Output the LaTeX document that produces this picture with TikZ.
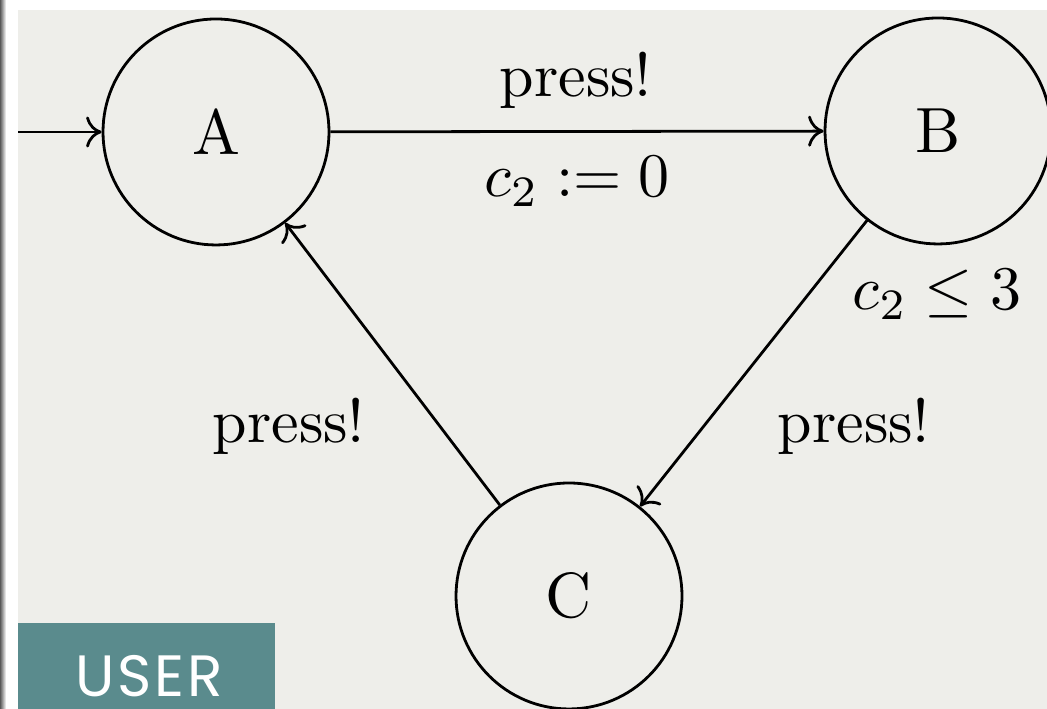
\documentclass[tikz,border=0pt]{standalone}
\usepackage{fontspec}
\usetikzlibrary{arrows.meta}
\newfontfamily\userfont[LetterSpace=5]{Poppins}
\definecolor{bggray}{RGB}{238,238,234}
\definecolor{teal}{RGB}{90,139,141}
\tikzset{
  state/.style={draw, circle, line width=0.45pt, minimum size=36.45pt, inner sep=0pt, font=\fontsize{10.3pt}{12pt}\selectfont},
  lbl/.style={anchor=base, inner sep=0pt, font=\fontsize{10pt}{12pt}\selectfont},
  edge/.style={-{Computer Modern Rightarrow[length=2.5pt,width=5pt]}, line width=0.45pt}
}
\begin{document}
\begin{tikzpicture}[x=0.1613pt,y=-0.1613pt]
\useasboundingbox (0,0) rectangle (1047,709);
\fill[white] (0,0) rectangle (1047,709);
\shade[left color=black!65, right color=white] (0,0) rectangle (6,709);
\fill[bggray] (18,10) rectangle (1047,709);
\fill[teal] (18,623) rectangle (275,709);
\node[anchor=base, inner sep=0pt, text=white, font=\userfont\fontsize{9.4pt}{11pt}\selectfont] (user) at (149,697) {USER};

\node[state] (A) at (216,132) {A};
\node[state] (B) at (938,131) {B};
\node[state] (C) at (569,596) {C};
\coordinate (init) at (18,132);

\draw[edge] (init) -- (A);
\draw[edge] (A) -- (B);
\draw[edge] (B) -- (C);
\draw[edge] (C) -- (A);

\node[lbl] (l1) at (576,97) {press!};
\node[lbl] (l2) at (577,197) {$c_2 := 0$};
\node[lbl] (l3) at (937,310) {$c_2 \leq 3$};
\node[lbl] (l4) at (854,443) {press!};
\node[lbl] (l5) at (289,443) {press!};
\end{tikzpicture}
\end{document}
